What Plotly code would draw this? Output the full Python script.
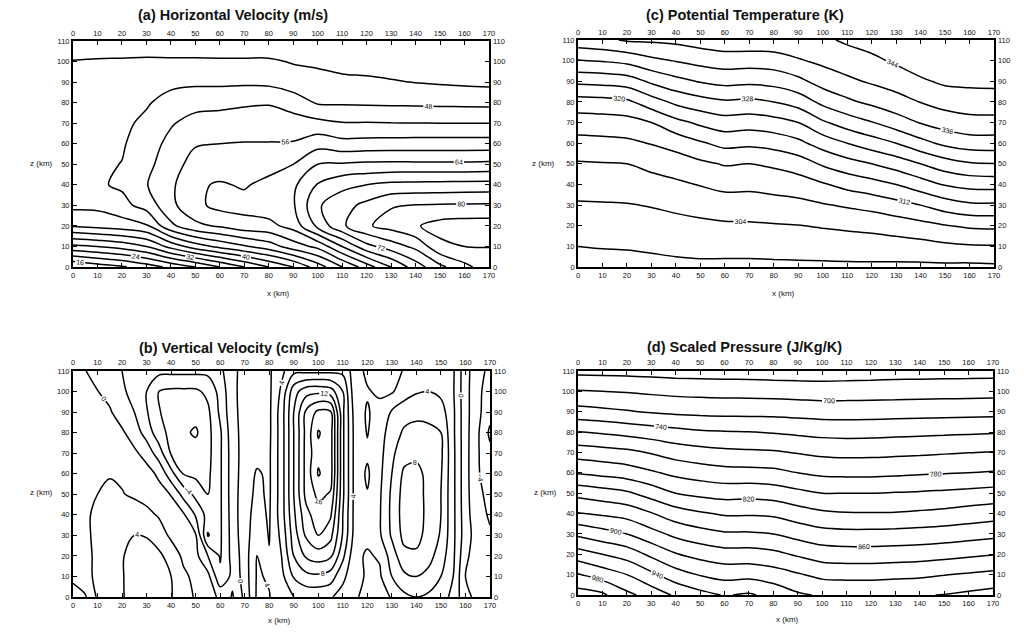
import plotly.graph_objects as go
import numpy as np

# grid of the model section (km)
X_KM = list(range(0, 171, 10))        # panels a, c, d
X_KM_B = list(range(0, 171, 5))       # panel b (finer in x)
Z_KM = list(range(0, 111, 10))

# (a) horizontal velocity (m/s): one list per x column, values from z=0 to z=110
U_COLS = [
    [12, 27, 40.3, 45, 46, 46.5, 46.5, 46.5, 46.5, 46, 44.2, 41],
    [14, 28, 41.2, 45, 47.5, 47.3, 47, 47, 47, 46.3, 44.5, 41],
    [15.5, 29.5, 42, 46.8, 48.6, 48.1, 47.6, 47.4, 47.2, 46.6, 44.6, 41],
    [18, 32, 43.5, 49.5, 51.8, 51, 50, 48.6, 47.7, 46.8, 44.8, 41],
    [21, 37.3, 51.1, 55, 55.2, 54, 53.2, 51.6, 49.1, 47.3, 44.7, 41],
    [24, 42, 55, 59, 59.4, 57.8, 55.6, 53.6, 50.5, 47.3, 44.7, 41],
    [28, 45, 56.5, 61.2, 60.4, 58, 56, 53.8, 50.9, 47.2, 44.6, 41],
    [32, 47.5, 58.5, 61.3, 59.6, 58, 56.2, 53.8, 51.5, 47.3, 44.6, 41],
    [36, 50, 58.8, 62.3, 61.2, 58.4, 56.2, 54, 51.7, 47.1, 44.6, 41],
    [40, 54, 61.5, 63.5, 63.2, 60, 56.3, 53.9, 50, 46, 43.7, 41],
    [46, 57, 69, 71.5, 68.3, 64, 58.5, 53.1, 47.6, 45.4, 43.3, 41],
    [52, 64, 75.3, 74.5, 70.9, 64.4, 57.3, 52.2, 47.5, 45, 42.5, 40.8],
    [58, 70.7, 79.5, 77.1, 72, 64.8, 57.5, 52.2, 47.4, 44.7, 42.4, 40.8],
    [64, 74, 81.5, 79.7, 73, 64.9, 57.6, 52.1, 47.3, 44.3, 42.2, 40.7],
    [70, 77, 83.6, 80.2, 73.2, 64.8, 57.7, 52.05, 47.2, 43.9, 42, 40.7],
    [75, 83, 85.5, 80.4, 73.3, 64.8, 57.7, 52, 47.1, 43.6, 41.8, 40.6],
    [79, 84, 86, 80.5, 73.4, 64.8, 57.7, 52, 47, 43.3, 41.6, 40.6],
    [82, 84.1, 86, 80.6, 73.5, 65, 57.7, 52, 46.9, 43.1, 41.5, 40.5],
]

# (b) vertical velocity (cm/s): one list per z row (z=0 ... 110), values for x = 0, 5, ..., 170
W_ROWS = [
    [-0.6, -0.2, 2.3, 3.0, 3.9, 4.5, 4.8, 4.6, 4.1, 2.8, 1.8, 0.9, -0.4, -2.2, 0.5, 4.3, 4.1, 2.5,
     4.0, 4.5, 4.5, 4.2, 3.2, 2.2, 1.5, 1.5, 2.1, 3.5, 4.0, 3.6, 2.8, 1.5, -1.5, -2.5, -3.0],
    [0.3, 1.2, 2.6, 3.4, 3.9, 4.6, 4.8, 4.6, 4.0, 2.4, 1.5, 0.6, -3.6, -1.5, 0.9, 4.2, 3.8, 3.4,
     6.2, 7.4, 7.6, 7.0, 4.5, 2.5, 1.8, 1.7, 4.0, 5.6, 6.0, 5.4, 4.0, 2.0, -2.0, -3.0, -3.5],
    [0.8, 1.5, 2.4, 3.4, 3.9, 4.5, 4.7, 4.4, 3.2, 1.6, 0.6, -2.0, -4.2, -1.3, 1.0, 4.1, 2.1, 4.0,
     8.0, 10.3, 11.0, 10.4, 6.5, 2.4, 1.8, 2.2, 5.0, 7.4, 7.6, 6.7, 5.0, 2.4, -1.6, -3.0, -3.8],
    [1.0, 1.6, 2.5, 3.2, 3.7, 4.0, 3.9, 3.0, 1.6, 1.0, 0.2, -6.2, -4.3, -1.2, 1.3, 3.0, 1.9, 4.5,
     9.0, 12.3, 14.0, 12.6, 7.8, 3.1, 2.4, 3.7, 6.3, 8.6, 8.7, 7.2, 5.8, 2.5, -1.1, -3.0, -3.8],
    [1.1, 1.7, 2.4, 3.0, 3.2, 3.0, 2.5, 1.8, 1.0, 0.3, -2.2, -4.8, -4.3, -1.1, 1.4, 2.6, 1.8, 5.0,
     9.6, 13.3, 15.2, 14.3, 8.0, 3.2, 2.3, 3.8, 6.5, 8.9, 8.9, 7.4, 6.0, 2.5, -1.2, -3.4, -4.2],
    [1.1, 1.5, 2.0, 2.3, 2.1, 1.7, 1.3, 0.8, -0.1, -2.7, -4.6, -6.0, -4.3, -1.0, 1.2, 2.4, 1.7, 5.0,
     10.0, 14.6, 16.5, 15.8, 8.4, 3.2, 2.1, 3.7, 6.4, 8.8, 8.8, 7.4, 6.0, 2.5, -1.3, -3.6, -4.5],
    [1.0, 1.3, 1.6, 1.9, 1.7, 1.3, 0.8, -0.4, -3.3, -6.1, -6.5, -6.4, -4.3, -1.0, 1.0, 2.2, 1.7, 5.0,
     10.0, 14.7, 18.2, 16.9, 8.4, 3.2, 1.7, 3.5, 6.0, 8.4, 8.6, 7.4, 6.2, 2.5, -1.3, -3.8, -5.0],
    [1.0, 1.0, 1.0, 0.9, 0.7, 0.4, -0.8, -3.0, -6.2, -6.6, -7.0, -6.6, -4.3, -1.0, 0.9, 1.4, 1.7, 5.0,
     10.0, 14.7, 17.5, 16.9, 8.4, 3.2, 2.3, 3.3, 5.6, 7.2, 7.5, 7.2, 6.4, 2.5, -1.3, -3.8, -5.5],
    [0.9, 0.8, 0.7, 0.6, 0.3, -1.0, -2.8, -5.2, -6.6, -7.6, -8.3, -6.6, -4.3, -0.8, 0.8, 1.3, 1.6, 5.0,
     10.0, 14.6, 18.2, 16.9, 8.4, 3.2, 1.9, 3.1, 5.0, 6.3, 6.5, 6.4, 6.0, 2.4, -1.3, -3.7, -6.4],
    [0.8, 0.6, 0.3, 0.2, -1.0, -2.0, -3.8, -5.9, -6.6, -6.9, -7.2, -6.4, -3.6, -0.6, 0.8, 1.3, 1.6, 5.0,
     10.0, 14.4, 16.5, 16.3, 8.4, 3.0, 1.8, 2.8, 4.2, 5.2, 5.6, 5.5, 4.9, 2.4, -1.3, -3.5, -5.3],
    [0.6, 0.3, 0.05, -0.6, -1.7, -2.6, -4.0, -6.0, -6.4, -6.4, -6.4, -5.5, -3.3, -0.5, 0.8, 1.2, 1.6, 4.4,
     9.2, 11.2, 11.5, 11.0, 8.0, 2.5, 2.2, 1.6, 1.8, 3.0, 3.8, 4.0, 3.5, 2.2, -1.3, -3.5, -5.0],
    [0.4, 0.05, -0.7, -1.3, -2.0, -2.8, -3.5, -3.5, -3.5, -3.5, -3.5, -3.5, -2.5, -0.5, 0.7, 1.2, 1.7, 3.5,
     5.5, 5.5, 5.5, 5.5, 5.5, 3.0, 1.5, 1.4, 1.5, 2.1, 2.8, 2.8, 2.8, 2.3, -1.3, -3.3, -4.5],
]

# (c) potential temperature (K): one list per x column, z=0 ... 110
TH_COLS = [
    [298.2, 300.0, 301.8, 303.6, 305.6, 307.6, 310.7, 314.0, 318.3, 325.0, 331.8, 338.5],
    [298.4, 300.2, 302.0, 303.7, 305.7, 307.8, 310.9, 314.2, 318.6, 325.3, 332.3, 339.2],
    [298.6, 300.3, 302.1, 303.8, 305.9, 308.0, 311.2, 314.5, 319.2, 326.0, 333.2, 340.4],
    [298.8, 300.6, 302.4, 304.2, 306.5, 309.1, 312.2, 316.0, 322.2, 328.7, 335.1, 340.6],
    [299.1, 300.9, 302.8, 304.8, 307.3, 310.0, 313.5, 318.8, 324.9, 330.8, 336.2, 341.0],
    [299.2, 301.2, 303.1, 305.5, 308.2, 311.2, 315.5, 320.8, 326.5, 332.3, 337.3, 341.8],
    [299.1, 301.3, 303.4, 306.1, 309.1, 312.3, 317.2, 322.2, 327.5, 333.2, 338.0, 342.5],
    [299.1, 301.3, 303.5, 306.1, 309.0, 312.0, 316.8, 321.8, 327.1, 332.9, 337.8, 342.6],
    [299.2, 301.4, 303.7, 306.5, 309.5, 312.7, 317.5, 322.5, 328.0, 333.4, 338.1, 342.7],
    [299.2, 301.6, 303.9, 306.9, 310.1, 314.0, 319.0, 324.0, 329.7, 335.0, 339.6, 343.0],
    [299.25, 301.75, 304.3, 307.7, 311.6, 316.5, 321.7, 327.4, 333.0, 337.6, 340.9, 343.3],
    [299.3, 301.9, 304.7, 308.5, 313.25, 318.4, 324.0, 329.9, 335.2, 339.2, 342.05, 344.6],
    [299.3, 302.1, 305.1, 309.3, 314.5, 320.0, 326.1, 331.8, 336.9, 340.5, 343.1, 345.7],
    [299.2, 302.3, 305.8, 310.6, 316.0, 321.8, 328.0, 334.1, 338.5, 341.7, 344.6, 347.0],
    [299.2, 302.6, 306.7, 312.0, 318.2, 324.0, 330.7, 336.2, 340.1, 343.4, 346.2, 347.5],
    [299.2, 303.2, 307.8, 314.0, 320.3, 326.2, 332.9, 337.8, 341.5, 344.7, 347.0, 347.8],
    [299.1, 303.6, 308.6, 315.3, 321.3, 327.6, 334.1, 338.7, 342.0, 344.9, 347.2, 347.8],
    [299.3, 303.7, 308.8, 315.4, 321.5, 327.9, 334.2, 338.8, 342.1, 345.0, 347.3, 347.9],
]

# (d) scaled pressure (J/Kg/K): one list per x column, z=0 ... 110
P_COLS = [
    [1009.0, 981.6, 949.2, 915.9, 881.2, 854.0, 818.3, 790.6, 760.7, 727.0, 701.6, 674.5],
    [1003.6, 970.7, 940.0, 907.7, 877.0, 848.8, 814.3, 788.0, 757.4, 724.6, 700.0, 674.4],
    [985.0, 960.0, 931.4, 900.0, 872.5, 843.3, 810.0, 784.7, 753.7, 721.6, 698.75, 673.75],
    [972.0, 944.3, 915.7, 887.1, 861.25, 831.7, 802.7, 778.5, 749.7, 718.3, 696.5, 672.9],
    [957.1, 928.6, 901.3, 875.0, 849.3, 820.0, 795.3, 771.25, 745.9, 715.9, 694.8, 672.0],
    [946.7, 918.75, 893.3, 867.5, 842.5, 815.0, 790.6, 767.1, 742.5, 714.7, 693.9, 671.5],
    [938.7, 912.9, 888.0, 862.5, 837.5, 812.0, 787.1, 764.4, 741.2, 714.0, 693.3, 671.1],
    [942.4, 913.8, 888.1, 862.5, 837.6, 812.9, 786.25, 763.3, 740.5, 713.9, 692.9, 670.7],
    [934.3, 908.9, 885.0, 860.0, 836.25, 810.7, 785.0, 762.2, 738.7, 713.7, 692.2, 670.0],
    [922.9, 902.0, 877.5, 852.9, 829.4, 805.0, 780.0, 758.9, 736.25, 712.6, 691.3, 669.6],
    [917.8, 895.0, 870.6, 847.1, 823.5, 800.0, 776.0, 755.8, 734.1, 711.4, 690.3, 669.7],
    [916.7, 893.75, 868.75, 845.6, 821.25, 800.0, 775.0, 754.7, 733.3, 711.4, 690.5, 670.3],
    [916.7, 893.75, 868.9, 845.6, 821.0, 800.0, 775.0, 754.9, 733.8, 711.6, 691.0, 671.0],
    [917.8, 895.0, 869.7, 846.5, 821.3, 801.0, 776.0, 755.9, 734.8, 712.0, 691.5, 671.7],
    [918.9, 896.25, 871.0, 847.6, 823.1, 802.0, 777.7, 756.9, 735.7, 712.6, 692.0, 672.0],
    [920.6, 899.5, 873.3, 849.2, 825.2, 803.7, 779.0, 758.3, 736.5, 713.1, 692.4, 672.4],
    [923.9, 902.2, 876.2, 851.8, 828.4, 805.6, 780.0, 759.6, 737.5, 713.5, 692.7, 672.5],
    [927.3, 905.1, 879.0, 854.6, 831.1, 807.8, 781.6, 760.9, 738.4, 713.9, 693.1, 672.9],
]

TITLES = ["(a) Horizontal Velocity (m/s)", "(b) Vertical Velocity (cm/s)",
          "(c) Potential Temperature (K)", "(d) Scaled Pressure (J/Kg/K)"]

FONT = "Liberation Sans"
INK = "#111"

PANELS = [
    dict(x=X_KM, z=np.array(U_COLS, dtype=float).T, lab=16, unl=20, end=84, step=8, ax=(1, 2),
         xd=[0.0713, 0.4775], yd=[0.5775, 0.9351], title=TITLES[0], tx=0.2275, ty=0.976,
         xt=(0.2715, 0.535), zt=(0.0537, 0.742)),
    dict(x=X_KM_B, z=np.array(W_ROWS, dtype=float), lab=-8, unl=-6, end=18, step=4, ax=(5, 6),
         xd=[0.0713, 0.4785], yd=[0.0554, 0.4130], title=TITLES[1], tx=0.2236, ty=0.449,
         xt=(0.2734, 0.0175), zt=(0.0537, 0.22)),
    dict(x=X_KM, z=np.array(TH_COLS, dtype=float).T, lab=304, unl=300, end=344, step=8, ax=(3, 4),
         xd=[0.5645, 0.9707], yd=[0.5775, 0.9367], title=TITLES[2], tx=0.7275, ty=0.976,
         xt=(0.7656, 0.535), zt=(0.544, 0.742)),
    dict(x=X_KM, z=np.array(P_COLS, dtype=float).T, lab=700, unl=680, end=1000, step=40, ax=(7, 8),
         xd=[0.5645, 0.9697], yd=[0.0585, 0.4130], title=TITLES[3], tx=0.7275, ty=0.451,
         xt=(0.7686, 0.019), zt=(0.546, 0.22)),
]

fig = go.Figure()

tickfont = dict(size=7.5, family=FONT, color="#111")
base_x = dict(range=[0, 170], tick0=0, dtick=10, ticks="inside", ticklen=4, tickwidth=1,
              tickcolor="black", showgrid=False, zeroline=False, tickfont=tickfont,
              automargin=False)
base_y = dict(range=[0, 110], tick0=0, dtick=10, ticks="inside", ticklen=4, tickwidth=1,
              tickcolor="black", showgrid=False, zeroline=False, tickfont=tickfont,
              automargin=False)

layout_axes = {}
annotations = []
for p in PANELS:
    m, o = p["ax"]
    xm, ym = f"x{m}", f"y{m}"
    xo, yo = f"x{o}", f"y{o}"
    for start, show in ((p["unl"], False), (p["lab"], True)):
        fig.add_trace(go.Contour(
            x=p["x"], y=Z_KM, z=p["z"], xaxis=xm, yaxis=ym,
            autocontour=False,
            contours=dict(coloring="lines", start=start, end=p["end"], size=p["step"],
                          showlabels=show,
                          labelfont=dict(size=7, family=FONT, color="black")),
            colorscale=[[0, "black"], [1, "black"]],
            line=dict(width=1.5, smoothing=1.0),
            showscale=False, hoverinfo="skip"))
    fig.add_trace(go.Scatter(x=[0, 170], y=[0, 110], xaxis=xo, yaxis=yo, mode="markers",
                             marker=dict(opacity=0), showlegend=False, hoverinfo="skip"))
    kx = "xaxis" if m == 1 else f"xaxis{m}"
    ky = "yaxis" if m == 1 else f"yaxis{m}"
    layout_axes[kx] = dict(base_x, domain=p["xd"], anchor=ym, showline=True,
                           linecolor="black", linewidth=2, mirror=True)
    layout_axes[ky] = dict(base_y, domain=p["yd"], anchor=xm, showline=True,
                           linecolor="black", linewidth=2, mirror=True)
    layout_axes[f"xaxis{o}"] = dict(base_x, domain=p["xd"], anchor=yo, overlaying=xm,
                                    side="top", showline=False, ticklabelstandoff=3)
    layout_axes[f"yaxis{o}"] = dict(base_y, domain=p["yd"], anchor=xo, overlaying=ym,
                                    side="right", showline=False, ticklabelstandoff=3)
    annotations.append(dict(text=p["title"], x=p["tx"], y=p["ty"], xref="paper", yref="paper",
                            xanchor="center", yanchor="middle", showarrow=False,
                            font=dict(size=14.5, family=FONT, color=INK, weight="bold")))
    annotations.append(dict(text="x (km)", x=p["xt"][0], y=p["xt"][1], xref="paper",
                            yref="paper", xanchor="center", yanchor="middle", showarrow=False,
                            font=dict(size=8, family=FONT, color="#111")))
    annotations.append(dict(text="z (km)", x=p["zt"][0], y=p["zt"][1],
                            xref="paper", yref="paper", showarrow=False, xanchor="right",
                            yanchor="middle",
                            font=dict(size=8, family=FONT, color="#111")))

fig.update_layout(width=1024, height=632, autosize=False,
                  margin=dict(l=0, r=0, t=0, b=0),
                  paper_bgcolor="white", plot_bgcolor="white",
                  showlegend=False, annotations=annotations, **layout_axes)

fig.write_html("out.html",
               config={"displayModeBar": False, "staticPlot": True},
               post_script="document.body.style.margin='0px';"
                           "document.body.style.overflow='hidden';")
